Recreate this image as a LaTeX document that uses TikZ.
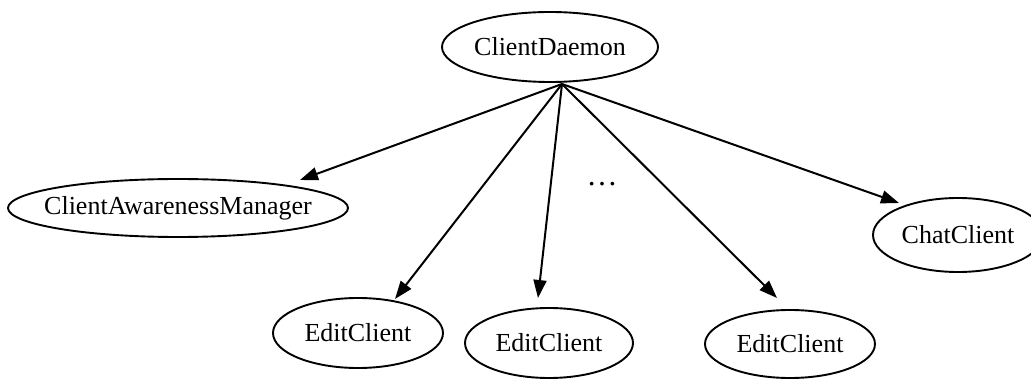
\documentclass[tikz,border=0pt]{standalone}
\usepackage{fontspec}
\setmainfont{Liberation Serif}
\usetikzlibrary{shapes.geometric,arrows.meta}

% the label is boxed with zero width so the ellipse keeps its given size
\newcommand{\lbl}[1]{\makebox[0pt]{#1}}

\tikzset{
  comp/.style={draw=black, line width=1.9pt, ellipse, inner sep=0pt,
    font=\fontsize{26}{26}\selectfont},
  link/.style={draw=black, line width=2pt,
    -{Triangle[length=18pt,width=13pt]}}
}

\begin{document}
\begin{tikzpicture}[x=1pt, y=-1pt]
  \useasboundingbox (0,0) rectangle (1031,379);

  % components
  \node[comp, minimum width=216pt, minimum height=70pt] (daemon) at (550,47) {\lbl{ClientDaemon}};
  \node[comp, minimum width=340pt, minimum height=58pt] (awareness) at (178,208) {\lbl{ClientAwarenessManager}};
  \node[comp, minimum width=170pt, minimum height=70pt] (edit1) at (358,333) {\lbl{EditClient}};
  \node[comp, minimum width=168pt, minimum height=70pt] (edit2) at (549,343) {\lbl{EditClient}};
  \node[comp, minimum width=170pt, minimum height=68pt] (edit3) at (790,344) {\lbl{EditClient}};
  \node[comp, minimum width=170pt, minimum height=74pt] (chat) at (958,235) {\lbl{ChatClient}};

  \node[inner sep=0pt, font=\fontsize{31}{31}\selectfont] (more) at (602,184) {…};

  % fan-out point under the daemon and arrow ends
  \coordinate (hub) at (562,84);
  \coordinate (toAwareness) at (300,180);
  \coordinate (toEdit1) at (395,299);
  \coordinate (toEdit2) at (538,298);
  \coordinate (toEdit3) at (777,298);
  \coordinate (toChat) at (899,203);

  \draw[link] (hub) -- (toAwareness);
  \draw[link] (hub) -- (toEdit1);
  \draw[link] (hub) -- (toEdit2);
  \draw[link] (hub) -- (toEdit3);
  \draw[link] (hub) -- (toChat);
\end{tikzpicture}
\end{document}
